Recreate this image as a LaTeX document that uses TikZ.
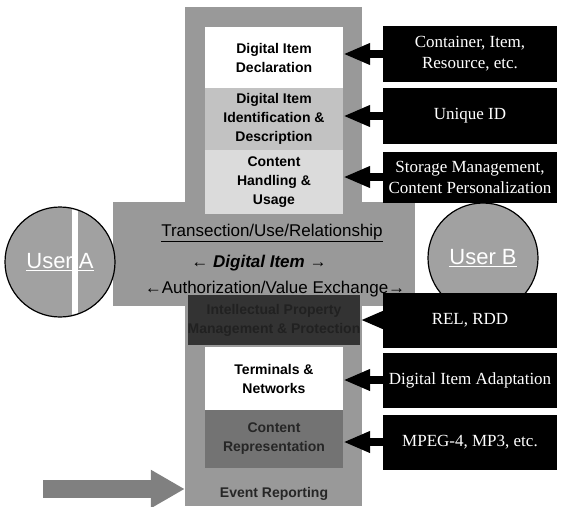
\documentclass[tikz,border=0pt]{standalone}
\usepackage{fontspec}
\setmainfont{Liberation Serif}
\setsansfont{Liberation Sans}
\usetikzlibrary{positioning,arrows.meta}

\definecolor{colgray}{gray}{0.6}
\definecolor{idgray}{gray}{0.76}
\definecolor{usegray}{gray}{0.86}
\definecolor{ipmpgray}{gray}{0.2}
\definecolor{ipmptext}{gray}{0.13}
\definecolor{repgray}{gray}{0.45}
\definecolor{usergray}{gray}{0.63}
\definecolor{evgray}{gray}{0.5}

\tikzset{
  part/.style={rectangle, minimum width=138pt, inner sep=0pt, align=center,
    font=\sffamily\bfseries\fontsize{14}{19}\selectfont},
  tool/.style={rectangle, fill=black, text=white, minimum width=174pt, inner sep=0pt,
    align=center, font=\fontsize{17}{21}\selectfont},
  feed/.style={-{Triangle[length=27pt,width=20pt]}, line width=8pt},
  user/.style={circle, draw=black, line width=1.2pt, fill=usergray, minimum size=110pt,
    inner sep=0pt, text=white, font=\sffamily\fontsize{22}{24}\selectfont},
  deal/.style={font=\sffamily\fontsize{17}{20}\selectfont}
}

\begin{document}
\begin{tikzpicture}[x=1pt,y=-1pt]
  \useasboundingbox (0,0) rectangle (561,506);

  % column and band
  \node (column) [fill=colgray, minimum width=177pt, minimum height=499pt, inner sep=0pt] at (273.5,256.5) {};
  \fill[colgray] (113,202) rectangle (415,306);

  \node (decl)  [part, fill=white, minimum height=62pt] at (274,58) {Digital Item\\Declaration};
  \node (ident) [part, fill=idgray, minimum height=62pt] at (274,119) {Digital Item\\Identification \&\\Description};
  \node (usage) [part, fill=usegray, minimum height=64pt] at (274,182) {Content\\Handling \&\\Usage};
  \node (ipmp)  [part, fill=ipmpgray, text=ipmptext, minimum height=50pt] at (274,320) {Intellectual Property\\Management \& Protection};
  \node (term)  [part, fill=white, minimum height=63pt] at (274,378.5) {Terminals \&\\Networks};
  \node (repr)  [part, fill=repgray, text=black!85, minimum height=58pt] at (274,439) {Content\\Representation};
  \node (event) [part, text=black!85] at (274,494) {Event Reporting};

  \node (tx)   [deal] at (272,233) {\underline{Transection/Use/Relationship}};
  \node (di)   [deal, font=\sffamily\bfseries\itshape\fontsize{17}{20}\selectfont] at (259,263) {← Digital Item →};
  \node (auth) [deal] at (275,289) {←Authorization/Value Exchange→};

  % users
  \node (userA) [user] at (60,262) {};
  \begin{scope}
    \clip (60,262) circle (54pt);
    \fill[white] (72,200) rectangle (78,320);
  \end{scope}
  \node (nameA) [text=white, font=\sffamily\fontsize{22}{24}\selectfont] at (userA) {\underline{User A}};
  \node (userB) [user] at (483,258) {\underline{User B}};

  % parts feeding the column
  \foreach \name/\y/\h/\txt/\dest in {cont/54/56/{Container, Item,\\Resource, etc.}/decl,
      uid/116/56/{Unique ID}/ident,
      store/177/51/{Storage Management,\\Content Personalization}/usage,
      rights/320/55/{REL, RDD}/ipmp,
      adapt/380/55/{Digital Item Adaptation}/term,
      codec/442/55/{MPEG-4, MP3, etc.}/repr}
  {
    \node (\name) [tool, minimum height=\h pt] at (470,\y) {\txt};
    \draw[feed] (\name.west) -- (\dest.east |- \name.west);
  }

  % events in
  \coordinate (src) at (43,489);
  \draw[-{Triangle[length=34pt,width=36pt]}, line width=18pt, draw=evgray] (src) -- (src -| column.west);
\end{tikzpicture}
\end{document}
